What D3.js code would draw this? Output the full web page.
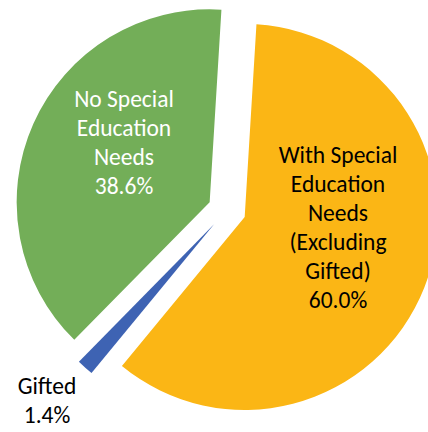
<!DOCTYPE html>
<html>
<head>
<meta charset="utf-8">
<script src="https://cdn.jsdelivr.net/npm/d3@7"></script>
<style>
  html, body { margin: 0; padding: 0; background: #fff; }
  svg { display: block; }
</style>
</head>
<body>
<svg id="chart" width="428" height="432"></svg>
<script>
// ---- data ----
const categories = ["With Special Education Needs (Excluding Gifted)", "Gifted", "No Special Education Needs"];
const values = [60.0, 1.4, 38.6];
const labelLines = [
  ["With Special", "Education", "Needs", "(Excluding", "Gifted)"],
  ["Gifted"],
  ["No Special", "Education", "Needs"]
];
const colors = ["#FBB615", "#3E63B3", "#73AE58"];
const textColors = ["#000000", "#000000", "#ffffff"];

// ---- layout ----
const svg = d3.select("#chart");
const cx = 227, cy = 210, radius = 193, explode = 19;
const startDeg = 3.5;
const lineH = 29;
const fontSize = 23.5;
// label block centres relative to pie centre
const labelOffsets = [[111, 17], [-180, 190], [-103, -68]];

const pie = d3.pie().sort(null).value(d => d)
  .startAngle(startDeg * Math.PI / 180)
  .endAngle(startDeg * Math.PI / 180 + 2 * Math.PI);
const arc = d3.arc().innerRadius(0).outerRadius(radius);
const arcs = pie(values);

const g = svg.append("g").attr("transform", `translate(${cx},${cy})`);

g.selectAll("path.slice").data(arcs).enter().append("path")
  .attr("class", "slice")
  .attr("d", arc)
  .attr("fill", (d, i) => colors[i])
  .attr("transform", d => {
    const m = (d.startAngle + d.endAngle) / 2;
    return `translate(${Math.sin(m) * explode},${-Math.cos(m) * explode})`;
  });

const fmt = d3.format(".1f");
arcs.forEach((d, i) => {
  const lines = labelLines[i].concat([fmt(values[i]) + "%"]);
  const n = lines.length;
  const [ox, oy] = labelOffsets[i];
  const t = g.append("text")
    .attr("text-anchor", "middle")
    .attr("font-family", "Carlito, Calibri, Lato, sans-serif")
    .attr("font-size", fontSize)
    .attr("fill", textColors[i]);
  lines.forEach((ln, j) => {
    t.append("tspan")
      .attr("x", ox)
      .attr("y", oy + (j - (n - 1) / 2) * lineH)
      .attr("dy", "0.35em")
      .text(ln);
  });
});
</script>
</body>
</html>
